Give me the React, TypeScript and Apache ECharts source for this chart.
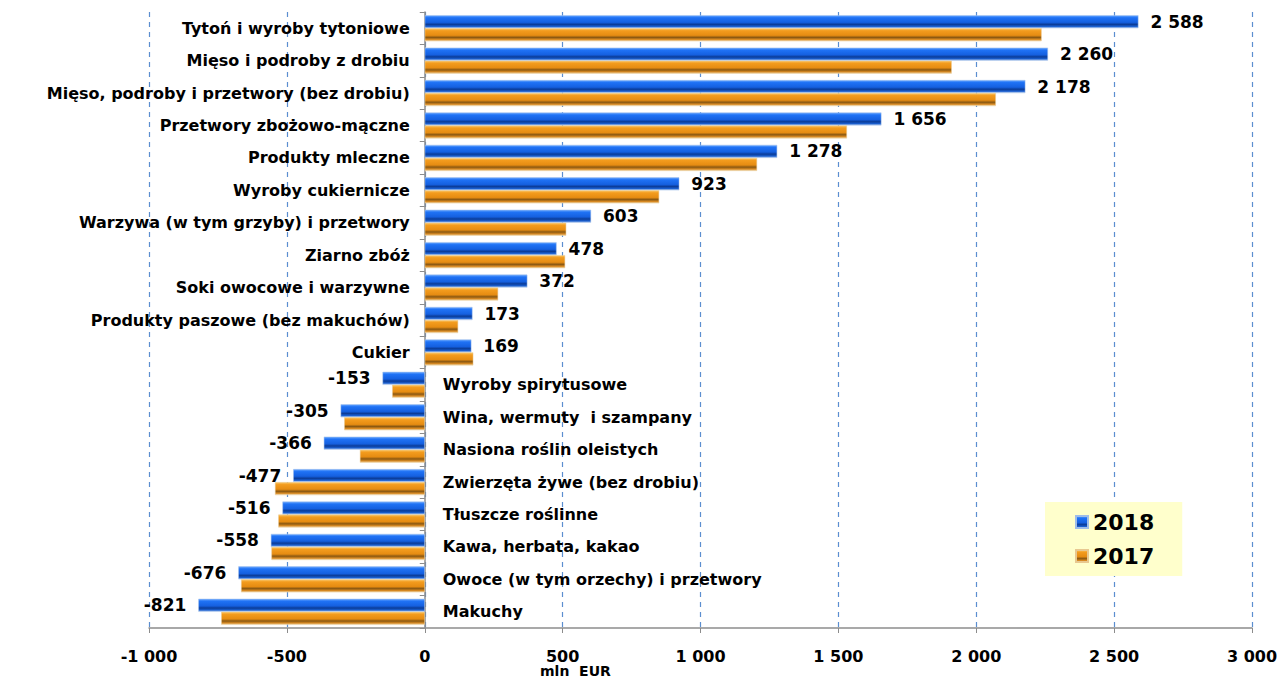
import React, { useEffect, useRef } from "react";
import * as echarts from "echarts";

const categories = [
  "Tytoń i wyroby tytoniowe",
  "Mięso i podroby z drobiu",
  "Mięso, podroby i przetwory (bez drobiu)",
  "Przetwory zbożowo-mączne",
  "Produkty mleczne",
  "Wyroby cukiernicze",
  "Warzywa (w tym grzyby) i przetwory",
  "Ziarno zbóż",
  "Soki owocowe i warzywne",
  "Produkty paszowe (bez makuchów)",
  "Cukier",
  "Wyroby spirytusowe",
  "Wina, wermuty  i szampany",
  "Nasiona roślin oleistych",
  "Zwierzęta żywe (bez drobiu)",
  "Tłuszcze roślinne",
  "Kawa, herbata, kakao",
  "Owoce (w tym orzechy) i przetwory",
  "Makuchy",
];

const values2018 = [2588, 2260, 2178, 1656, 1278, 923, 603, 478, 372, 173, 169, -153, -305, -366, -477, -516, -558, -676, -821];
const values2017 = [2237, 1911, 2071, 1531, 1205, 850, 513, 509, 266, 121, 176, -118, -292, -235, -543, -531, -556, -666, -738];

const seriesNames = ["2018", "2017"];
const axisTitle = "mln  EUR";

const FONT = "'DejaVu Sans', Verdana, sans-serif";

function fmt(v: number): string {
  const s = Math.abs(Math.round(v)).toString().replace(/\B(?=(\d{3})+(?!\d))/g, " ");
  return (v < 0 ? "-" : "") + s;
}

const blueGrad = new echarts.graphic.LinearGradient(0, 0, 0, 1, [
  { offset: 0, color: "#6aa8ff" },
  { offset: 0.18, color: "#1f72f5" },
  { offset: 0.55, color: "#1560e0" },
  { offset: 0.72, color: "#0b3c98" },
  { offset: 0.88, color: "#1a5fd0" },
  { offset: 1, color: "#a9c4ec" },
]);
const orangeGrad = new echarts.graphic.LinearGradient(0, 0, 0, 1, [
  { offset: 0, color: "#fbc86a" },
  { offset: 0.18, color: "#f39c1e" },
  { offset: 0.55, color: "#e68c12" },
  { offset: 0.72, color: "#8a5812" },
  { offset: 0.88, color: "#d98a22" },
  { offset: 1, color: "#ecd0a0" },
]);

export default function App() {
  const ref = useRef<HTMLDivElement>(null);
  useEffect(() => {
    if (!ref.current) return;
    const chart = echarts.init(ref.current, undefined, { renderer: "svg" });
    const labelStyle = { fontFamily: FONT, fontWeight: "bold" as const, color: "#000000", textBorderWidth: 0 };
    chart.setOption({
      animation: false,
      backgroundColor: "#fff",
      grid: { left: 149, right: 34, top: 12, bottom: 51, containLabel: false },
      legend: {
        data: seriesNames,
        orient: "vertical",
        left: 1045,
        top: 502,
        backgroundColor: "#ffffcc",
        padding: [9, 28, 9, 30],
        itemGap: 12,
        itemWidth: 12,
        itemHeight: 12,
        icon: "rect",
        textStyle: { ...labelStyle, fontSize: 22 },
      },
      xAxis: {
        type: "value",
        min: -1000,
        max: 3000,
        interval: 500,
        axisLine: { show: true, onZero: false, lineStyle: { color: "#8c8c8c", width: 1.5 } },
        axisTick: { show: true, length: 5, lineStyle: { color: "#8c8c8c" } },
        splitLine: { show: true, lineStyle: { color: "#5b8ed0", type: [5, 5], width: 1.2 } },
        axisLabel: { ...labelStyle, fontSize: 16, margin: 20, formatter: (v: number) => fmt(v) },
      },
      yAxis: {
        type: "category",
        data: categories,
        inverse: true,
        axisLine: { show: true, onZero: true, lineStyle: { color: "#8c8c8c", width: 1.5 } },
        axisTick: { show: true, length: 5, lineStyle: { color: "#8c8c8c" } },
        axisLabel: { show: false },
        splitLine: { show: false },
      },
      graphic: [
        {
          type: "text",
          left: 540,
          top: 664,
          style: { text: axisTitle, font: `bold 14px ${FONT}`, fill: "#000" },
        },
      ],
      series: [
        {
          name: seriesNames[0],
          type: "bar",
          data: values2018.map((v) => ({
            value: v,
            label: { position: v >= 0 ? "right" : "left" },
          })),
          barWidth: 13,
          barGap: "0%",
          itemStyle: { color: blueGrad, borderColor: "#9fbde8", borderWidth: 0.5 },
          label: {
            show: true,
            distance: 12,
            ...labelStyle,
            fontSize: 17,
            formatter: (p: any) => fmt(p.value),
          },
        },
        {
          name: seriesNames[1],
          type: "bar",
          data: values2017,
          barWidth: 13,
          barGap: "0%",
          itemStyle: { color: orangeGrad, borderColor: "#e8c890", borderWidth: 0.5 },
        },
        {
          type: "scatter",
          symbolSize: 0,
          silent: true,
          itemStyle: { color: "#000000", opacity: 1 },
          data: categories.map((c, i) => ({
            name: c,
            value: [0, c],
            label: {
              position: values2018[i] >= 0 ? "left" : "right",
              distance: values2018[i] >= 0 ? 15 : 18,
              color: "#000000",
            },
          })),
          label: {
            show: true,
            ...labelStyle,
            fontSize: 16,
            formatter: (p: any) => p.name,
          },
        },
      ],
    });
    return () => chart.dispose();
  }, []);
  return (
    <div
      ref={ref}
      style={{ position: "fixed", left: 0, top: 0, width: 1286, height: 679 }}
    />
  );
}
